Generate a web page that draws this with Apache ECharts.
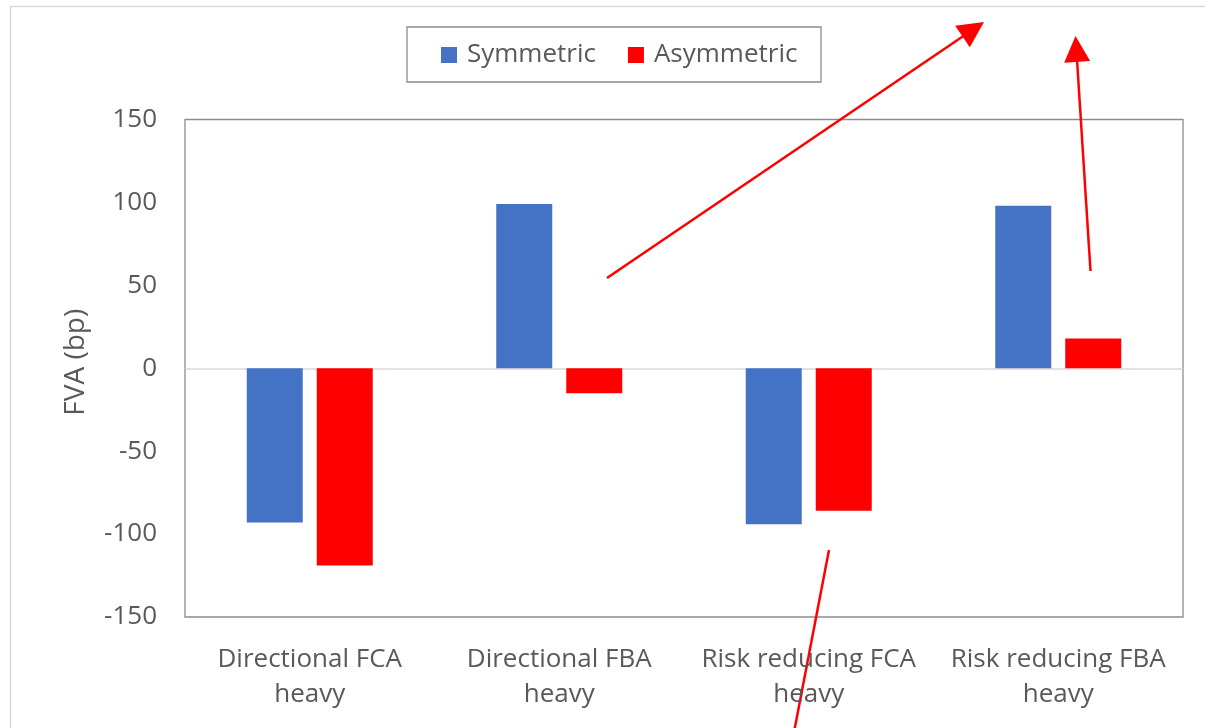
<!DOCTYPE html>
<html>
<head>
<meta charset="utf-8">
<script src="https://cdn.jsdelivr.net/npm/echarts@6/dist/echarts.min.js"></script>
<style>
  html, body { margin: 0; padding: 0; background: #ffffff; }
  #chart { width: 1205px; height: 728px; }
</style>
</head>
<body>
<div id="chart"></div>
<script>
// FVA by portfolio type, symmetric vs asymmetric funding (bp)
const categories = [
  'Directional FCA\nheavy',
  'Directional FBA\nheavy',
  'Risk reducing FCA\nheavy',
  'Risk reducing FBA\nheavy'
];
const seriesNames = ['Symmetric', 'Asymmetric'];
const symmetric = [-93, 99, -94, 98];
const asymmetric = [-119, -15, -86, 18];
const yMin = -150;
const yMax = 150;
const yStep = 50;
const yTitle = 'FVA (bp)';

const FONT = '"Open Sans", "Liberation Sans", sans-serif';
const TEXT = '#595959';
const BLUE = '#4472C4';
const RED = '#FF0000';

// Red annotation arrow: a stroke from tail to tip with a filled triangular head
function arrow(x1, y1, x2, y2, withHead) {
  const dx = x2 - x1, dy = y2 - y1;
  const len = Math.hypot(dx, dy);
  const ux = dx / len, uy = dy / len;
  const headLen = 26, halfW = 13;
  const bx = x2 - ux * headLen, by = y2 - uy * headLen;
  const items = [{
    type: 'line',
    shape: { x1: x1, y1: y1, x2: withHead ? bx + ux * 2 : x2, y2: withHead ? by + uy * 2 : y2 },
    style: { stroke: RED, lineWidth: 2.5 },
    silent: true
  }];
  if (withHead) {
    items.push({
      type: 'polygon',
      shape: { points: [[x2, y2], [bx - uy * halfW, by + ux * halfW], [bx + uy * halfW, by - ux * halfW]] },
      style: { fill: RED },
      silent: true
    });
  }
  return items;
}

const chart = echarts.init(document.getElementById('chart'), null, { renderer: 'canvas' });

chart.setOption({
  animation: false,
  backgroundColor: '#ffffff',
  textStyle: { fontFamily: FONT },
  grid: {
    left: 185, top: 119.5, right: 22, bottom: 111,
    show: true, borderColor: '#8c8c8c', borderWidth: 1.3,
    containLabel: false
  },
  legend: {
    data: seriesNames,
    left: 441, top: 42,
    icon: 'rect', itemWidth: 16, itemHeight: 16, itemGap: 32,
    padding: 0,
    textStyle: { fontFamily: FONT, fontSize: 26, color: TEXT, padding: [0, 0, 0, 5] }
  },
  xAxis: {
    type: 'category',
    data: categories,
    axisLine: { show: false, onZero: false },
    axisTick: { show: false },
    splitLine: { show: false },
    axisLabel: {
      interval: 0, margin: 25,
      fontFamily: FONT, fontSize: 26, color: TEXT, lineHeight: 35
    }
  },
  yAxis: {
    type: 'value',
    min: yMin, max: yMax, interval: yStep,
    axisLine: { show: false },
    axisTick: { show: false },
    splitLine: { show: false },
    axisLabel: { margin: 28, fontFamily: FONT, fontSize: 26, color: TEXT },
    name: yTitle,
    nameLocation: 'middle',
    nameGap: 95,
    nameTextStyle: { fontFamily: FONT, fontSize: 28, color: TEXT, padding: [0, 0, 0, 12] }
  },
  series: [
    {
      name: seriesNames[0], type: 'bar', data: symmetric,
      barWidth: 56, barGap: '25%',
      itemStyle: { color: BLUE },
      markLine: {
        silent: true, symbol: 'none', label: { show: false },
        lineStyle: { color: '#d9d9d9', width: 1.5, type: 'solid' },
        data: [{ yAxis: 0 }],
        z: 1
      },
      z: 2
    },
    {
      name: seriesNames[1], type: 'bar', data: asymmetric,
      barWidth: 56, barGap: '25%',
      itemStyle: { color: RED },
      z: 2
    }
  ],
  graphic: [
    // outer chart frame (runs past the right and bottom edges)
    {
      type: 'rect', silent: true, z: -10,
      shape: { x: 10.5, y: 6.5, width: 1400, height: 900 },
      style: { fill: null, stroke: '#d9d9d9', lineWidth: 1.5 }
    },
    // legend frame
    {
      type: 'rect', silent: true,
      shape: { x: 407, y: 27, width: 414, height: 55 },
      style: { fill: null, stroke: '#8c8c8c', lineWidth: 1.3 }
    }
  ]
    .concat(arrow(607, 278, 984, 22, true))
    .concat(arrow(1090.5, 271, 1075.5, 36, true))
    .concat(arrow(829, 550, 792.5, 740, false))
});
</script>
</body>
</html>
